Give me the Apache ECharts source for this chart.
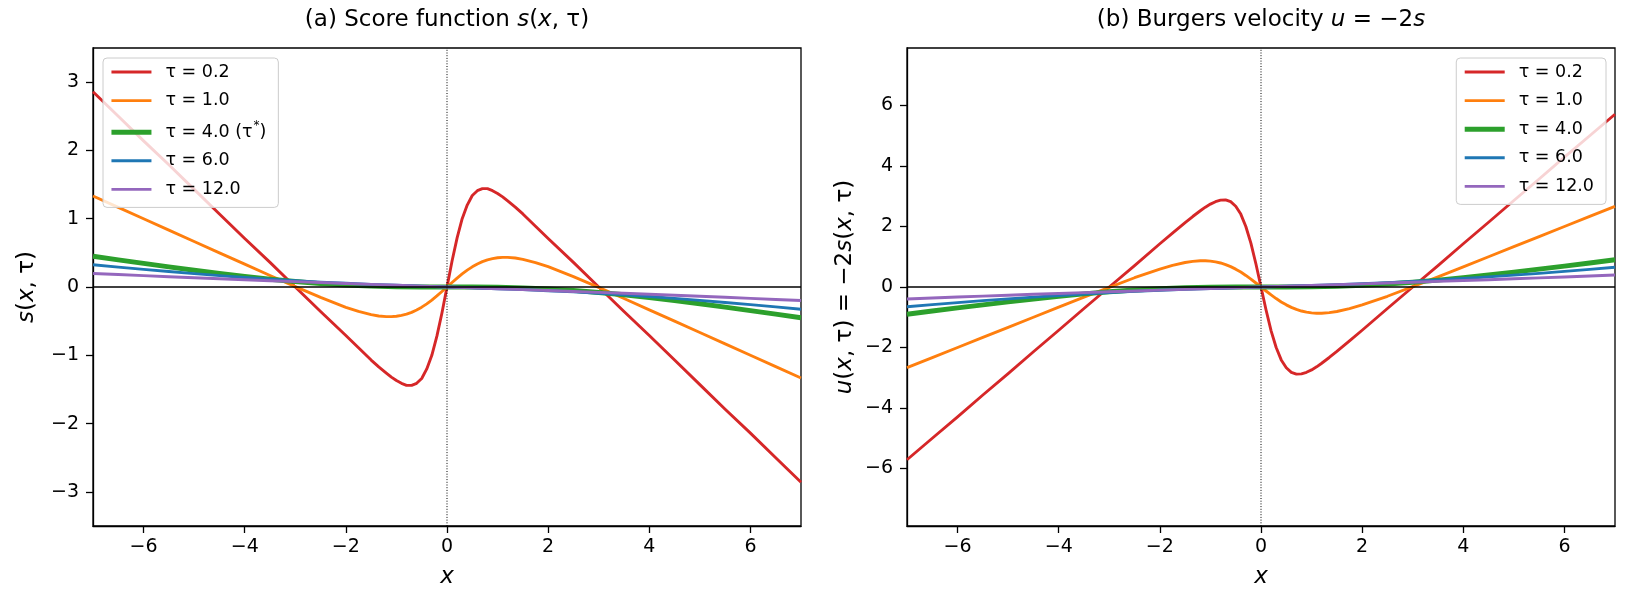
<!DOCTYPE html>
<html>
<head>
<meta charset="utf-8">
<script src="https://cdn.jsdelivr.net/npm/echarts@6/dist/echarts.min.js"></script>
<style>
  html, body { margin: 0; padding: 0; background: #ffffff; }
  #chart { width: 1630px; height: 609px; }
</style>
</head>
<body>
<div id="chart"></div>
<script>
// ---------- data ----------
const X_FINE = [-7,-6.5,-6,-5.5,-5,-4.5,-4,-3.5,-3,-2.5,-2,-1.75,-1.5,-1.35,-1.2,-1.1,-1,-0.9,-0.8,-0.7,-0.6,-0.5,-0.4,-0.3,-0.2,-0.1,0,
                0.1,0.2,0.3,0.4,0.5,0.6,0.7,0.8,0.9,1,1.1,1.2,1.35,1.5,1.75,2,2.5,3,3.5,4,4.5,5,5.5,6,6.5,7];
const X_COARSE = [-7,-6.5,-6,-5.5,-5,-4.5,-4,-3.5,-3,-2.5,-2,-1.5,-1,-0.5,0,0.5,1,1.5,2,2.5,3,3.5,4,4.5,5,5.5,6,6.5,7];

// score s(x, tau)
const S_TAU_02 = [2.86,2.50,2.14,1.79,1.43,1.07,0.71,0.36,0.00,-0.36,-0.71,-0.89,-1.07,-1.17,-1.26,-1.32,-1.37,-1.41,-1.44,-1.44,-1.41,-1.34,-1.20,-1.00,-0.72,-0.38,0,
                  0.38,0.72,1.00,1.20,1.34,1.41,1.44,1.44,1.41,1.37,1.32,1.26,1.17,1.07,0.89,0.71,0.36,0.00,-0.36,-0.71,-1.07,-1.43,-1.79,-2.14,-2.50,-2.86];
const S_TAU_1  = [1.333,1.167,1.000,0.833,0.667,0.500,0.334,0.168,0.005,-0.153,-0.297,-0.358,-0.405,-0.424,-0.434,-0.434,-0.428,-0.416,-0.397,-0.371,-0.337,-0.295,-0.247,-0.191,-0.131,-0.066,0,
                  0.066,0.131,0.191,0.247,0.295,0.337,0.371,0.397,0.416,0.428,0.434,0.434,0.424,0.405,0.358,0.297,0.153,-0.005,-0.168,-0.334,-0.500,-0.667,-0.833,-1.000,-1.167,-1.333];
const S_TAU_4  = [0.451,0.398,0.345,0.294,0.245,0.198,0.154,0.114,0.080,0.050,0.028,0.013,0.004,0.001,0,-0.001,-0.004,-0.013,-0.028,-0.050,-0.080,-0.114,-0.154,-0.198,-0.245,-0.294,-0.345,-0.398,-0.451];
const S_TAU_6  = [0.325,0.291,0.258,0.226,0.196,0.167,0.140,0.115,0.092,0.072,0.054,0.039,0.025,0.012,0,-0.012,-0.025,-0.039,-0.054,-0.072,-0.092,-0.115,-0.140,-0.167,-0.196,-0.226,-0.258,-0.291,-0.325];
const S_TAU_12 = [0.198,0.182,0.166,0.151,0.136,0.121,0.107,0.092,0.079,0.065,0.052,0.039,0.026,0.013,0,-0.013,-0.026,-0.039,-0.052,-0.065,-0.079,-0.092,-0.107,-0.121,-0.136,-0.151,-0.166,-0.182,-0.198];

// Burgers velocity u(x, tau)
const U_TAU_02 = [-5.71,-5.00,-4.29,-3.57,-2.86,-2.14,-1.43,-0.71,0.00,0.71,1.43,1.78,2.13,2.33,2.52,2.64,2.74,2.82,2.87,2.88,2.82,2.67,2.41,2.00,1.45,0.76,0,
                  -0.76,-1.45,-2.00,-2.41,-2.67,-2.82,-2.88,-2.87,-2.82,-2.74,-2.64,-2.52,-2.33,-2.13,-1.78,-1.43,-0.71,0.00,0.71,1.43,2.14,2.86,3.57,4.29,5.00,5.71];
const U_TAU_1  = [-2.667,-2.333,-2.000,-1.667,-1.333,-1.000,-0.668,-0.336,-0.010,0.306,0.594,0.716,0.810,0.848,0.868,0.868,0.856,0.832,0.794,0.742,0.674,0.590,0.494,0.382,0.262,0.132,0,
                  -0.132,-0.262,-0.382,-0.494,-0.590,-0.674,-0.742,-0.794,-0.832,-0.856,-0.868,-0.868,-0.848,-0.810,-0.716,-0.594,-0.306,0.010,0.336,0.668,1.000,1.333,1.667,2.000,2.333,2.667];
const U_TAU_4  = [-0.901,-0.795,-0.691,-0.589,-0.490,-0.397,-0.309,-0.228,-0.159,-0.101,-0.056,-0.025,-0.008,-0.001,0,0.001,0.008,0.025,0.056,0.101,0.159,0.228,0.309,0.397,0.490,0.589,0.691,0.795,0.901];
const U_TAU_6  = [-0.651,-0.582,-0.516,-0.452,-0.391,-0.334,-0.280,-0.230,-0.185,-0.144,-0.109,-0.077,-0.049,-0.024,0,0.024,0.049,0.077,0.109,0.144,0.185,0.230,0.280,0.334,0.391,0.452,0.516,0.582,0.651];
const U_TAU_12 = [-0.395,-0.363,-0.332,-0.301,-0.271,-0.242,-0.213,-0.185,-0.157,-0.130,-0.103,-0.077,-0.051,-0.026,0,0.026,0.051,0.077,0.103,0.130,0.157,0.185,0.213,0.242,0.271,0.301,0.332,0.363,0.395];

const X_TICKS = [-6,-4,-2,0,2,4,6];
const S_TICKS = [-3,-2,-1,0,1,2,3];
const U_TICKS = [-6,-4,-2,0,2,4,6];

const NAMES_A = ['τ = 0.2','τ = 1.0','τ = 4.0 (τ*)','τ = 6.0','τ = 12.0'];
const NAMES_B = ['τ = 0.2','τ = 1.0','τ = 4.0','τ = 6.0','τ = 12.0'];
const COLORS  = ['#d62728','#ff7f0e','#2ca02c','#1f77b4','#9467bd'];
const WIDTHS  = [2.9, 2.9, 4.9, 2.9, 2.9];

// ---------- chart ----------
const FONT = 'DejaVu Sans';
const pair = (xs, ys) => xs.map((x, i) => [x, ys[i]]);
const fmt = v => (v < 0 ? '\u2212' + Math.abs(v) : String(v));

const S_SETS = [[X_FINE,S_TAU_02],[X_FINE,S_TAU_1],[X_COARSE,S_TAU_4],[X_COARSE,S_TAU_6],[X_COARSE,S_TAU_12]];
const U_SETS = [[X_FINE,U_TAU_02],[X_FINE,U_TAU_1],[X_COARSE,U_TAU_4],[X_COARSE,U_TAU_6],[X_COARSE,U_TAU_12]];

function curve(name, k, set, axis) {
  return {
    name: name, type: 'line', xAxisIndex: axis, yAxisIndex: axis,
    data: pair(set[0], set[1]), showSymbol: false, symbol: 'none', smooth: false,
    lineStyle: { color: COLORS[k], width: WIDTHS[k], join: 'round' }, itemStyle: { color: COLORS[k] },
    clip: true, z: 2
  };
}
function refLine(axis, data, style) {
  return {
    name: '_ref' + axis + style, type: 'line', xAxisIndex: axis, yAxisIndex: axis, data: data,
    showSymbol: false, symbol: 'none', silent: true, z: 5,
    lineStyle: style === 'h' ? { color: '#000', width: 1.4 } : { color: '#000', width: 1, type: [1, 1.7] }
  };
}
function xAx(i) {
  return {
    gridIndex: i, type: 'value', min: -7, max: 7,
    axisLine: { show: true, onZero: false, lineStyle: { color: '#000', width: 1.3 } },
    axisTick: { show: true, inside: false, length: 7, customValues: X_TICKS, lineStyle: { color: '#000', width: 1.3 } },
    axisLabel: { customValues: X_TICKS, formatter: fmt, color: '#000', fontSize: 19, fontFamily: FONT, margin: 12 },
    splitLine: { show: false },
    name: 'x', nameLocation: 'middle', nameGap: 40,
    nameTextStyle: { fontSize: 23, fontStyle: 'italic', fontFamily: FONT, color: '#000' }
  };
}
function yAx(i, lim, ticks, name, gap) {
  return {
    gridIndex: i, type: 'value', min: -lim, max: lim,
    axisLine: { show: true, onZero: false, lineStyle: { color: '#000', width: 1.3 } },
    axisTick: { show: true, inside: false, length: 7, customValues: ticks, lineStyle: { color: '#000', width: 1.3 } },
    axisLabel: { customValues: ticks, formatter: fmt, color: '#000', fontSize: 19, fontFamily: FONT, margin: 14 },
    splitLine: { show: false },
    name: name, nameLocation: 'middle', nameGap: gap, nameRotate: 90,
    nameTextStyle: { fontSize: 23, fontFamily: FONT, color: '#000',
      rich: { i: { fontSize: 23, fontStyle: 'italic', fontFamily: FONT, color: '#000' } } }
  };
}
const legendBase = {
  orient: 'vertical', top: 58, itemWidth: 40, itemHeight: 18, itemGap: 10.6,
  padding: [5, 12, 9, 6],
  backgroundColor: 'rgba(255,255,255,0.8)', borderColor: '#cccccc', borderWidth: 1, borderRadius: 4,
  itemStyle: { opacity: 0 },
  textStyle: { fontSize: 17.5, fontFamily: FONT, color: '#000', padding: [0, 0, 0, 9],
    rich: { sup: { fontSize: 12, fontFamily: FONT, color: '#000', padding: [0, 0, 12, 1] } } },
  selectedMode: false
};
const legendData = names => names.map((n, k) => ({ name: n, lineStyle: { width: WIDTHS[k], color: COLORS[k] } }));

const series = [];
NAMES_A.forEach((n, k) => series.push(curve(n, k, S_SETS[k], 0)));
NAMES_B.forEach((n, k) => series.push(curve(n, k, U_SETS[k], 1)));
series.push(refLine(0, [[-7, 0], [7, 0]], 'h'));
series.push(refLine(0, [[0, -3.5], [0, 3.5]], 'v'));
series.push(refLine(1, [[-7, 0], [7, 0]], 'h'));
series.push(refLine(1, [[0, -7.9], [0, 7.9]], 'v'));

const option = {
  animation: false,
  backgroundColor: '#ffffff',
  textStyle: { fontFamily: FONT },
  title: [
    { text: '(a) Score function {i|s}({i|x}, τ)', left: 447, top: 9, textAlign: 'center', padding: 0,
      textStyle: { fontSize: 23, fontWeight: 'normal', fontFamily: FONT, color: '#000',
        rich: { i: { fontSize: 23, fontStyle: 'italic', fontFamily: FONT, color: '#000' } } } },
    { text: '(b) Burgers velocity {i|u} = \u22122{i|s}', left: 1261, top: 9, textAlign: 'center', padding: 0,
      textStyle: { fontSize: 23, fontWeight: 'normal', fontFamily: FONT, color: '#000',
        rich: { i: { fontSize: 23, fontStyle: 'italic', fontFamily: FONT, color: '#000' } } } }
  ],
  grid: [
    { left: 93, top: 48, width: 708, height: 478, show: true, borderColor: '#000', borderWidth: 1.3, backgroundColor: 'transparent' },
    { left: 907, top: 48, width: 708, height: 478, show: true, borderColor: '#000', borderWidth: 1.3, backgroundColor: 'transparent' }
  ],
  xAxis: [xAx(0), xAx(1)],
  yAxis: [
    yAx(0, 3.5, S_TICKS, '{i|s}({i|x}, τ)', 54),
    yAx(1, 7.9, U_TICKS, '{i|u}({i|x}, τ) = \u22122{i|s}({i|x}, τ)', 50)
  ],
  legend: [
    Object.assign({}, legendBase, { left: 103, data: legendData(NAMES_A),
      formatter: n => n.indexOf('(τ*)') >= 0 ? 'τ = 4.0 (τ{sup|*})' : n }),
    Object.assign({}, legendBase, { right: 24, data: legendData(NAMES_B) })
  ],
  series: series
};

const chart = echarts.init(document.getElementById('chart'), null, { renderer: 'canvas' });
chart.setOption(option);
</script>
</body>
</html>
